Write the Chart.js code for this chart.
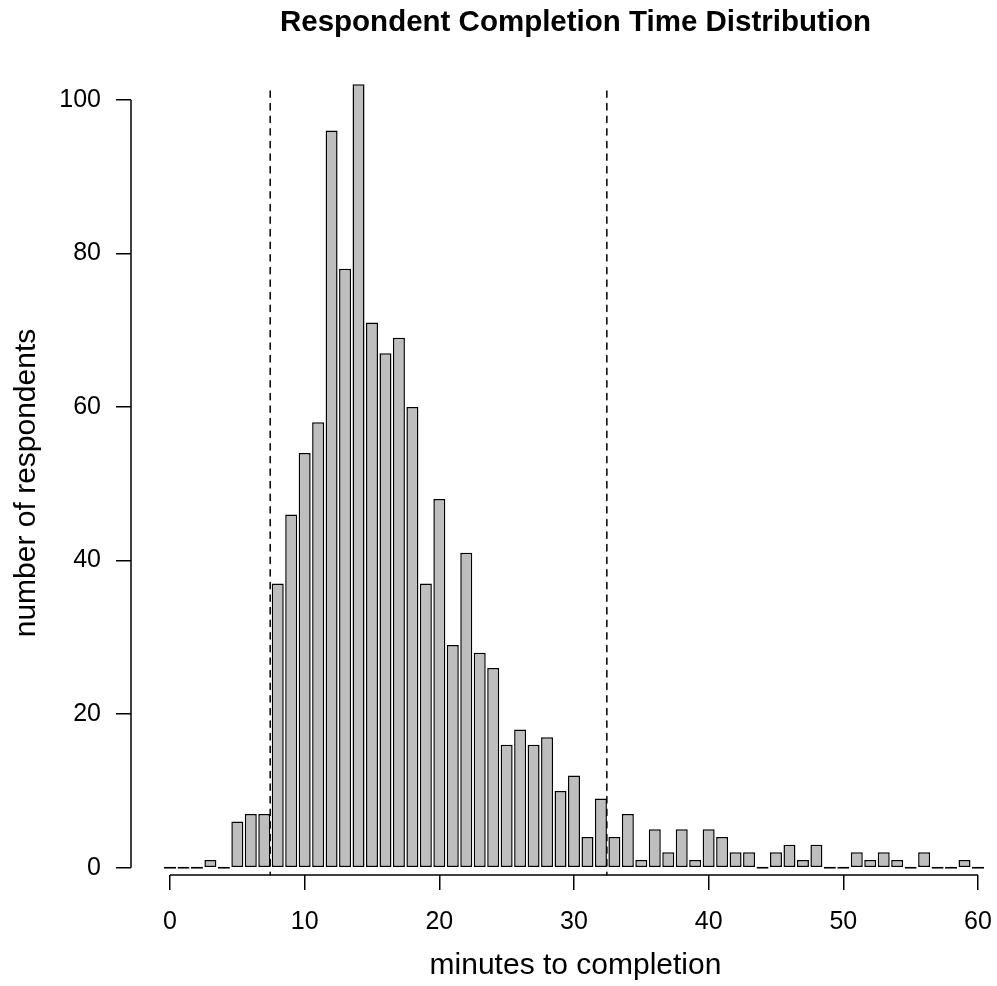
<!DOCTYPE html>
<html>
<head>
<meta charset="utf-8">
<script src="https://cdn.jsdelivr.net/npm/chart.js@4/dist/chart.umd.min.js"></script>
<style>
  html, body { margin: 0; padding: 0; background: #fff; overflow: hidden; }
  canvas { display: block; }
</style>
</head>
<body>
<!-- the plot region runs a little past the right edge of the window, as in the original -->
<canvas id="chart" width="1020" height="986"></canvas>
<script>
// one bar per whole minute
const minutes = [0, 1, 2, 3, 4, 5, 6, 7, 8, 9, 10, 11, 12, 13, 14, 15, 16, 17, 18, 19,
  20, 21, 22, 23, 24, 25, 26, 27, 28, 29, 30, 31, 32, 33, 34, 35, 36, 37, 38, 39,
  40, 41, 42, 43, 44, 45, 46, 47, 48, 49, 50, 51, 52, 53, 54, 55, 56, 57, 58, 59, 60];
const respondents = [0, 0, 0, 1, 0, 6, 7, 7, 37, 46, 54, 58, 96, 78, 102, 71, 67, 69, 60, 37,
  48, 29, 41, 28, 26, 16, 18, 16, 17, 10, 12, 4, 9, 4, 7, 1, 5, 2, 5, 1,
  5, 4, 2, 2, 0, 2, 3, 1, 3, 0, 0, 2, 1, 2, 1, 0, 2, 0, 0, 1, 0];
// dashed cut-off lines
const cutoffs = [7.44, 32.44];
const xTicks = [0, 10, 20, 30, 40, 50, 60];
const yTicks = [0, 20, 40, 60, 80, 100];

const FONT = 'Liberation Sans, Arial, Helvetica, sans-serif';

// R style axes: the line only runs between first and last tick
const rAxes = {
  id: 'rAxes',
  afterDatasetsDraw(chart) {
    const { ctx, chartArea, scales: { x, y } } = chart;
    ctx.save();
    ctx.strokeStyle = '#000';
    ctx.lineWidth = 1.5;

    ctx.setLineDash([6.3, 6.3]);
    ctx.lineCap = 'round';
    cutoffs.forEach(v => {
      const px = x.getPixelForValue(v);
      ctx.beginPath();
      ctx.moveTo(px, chartArea.top);
      ctx.lineTo(px, chartArea.bottom);
      ctx.stroke();
    });

    ctx.setLineDash([]);
    ctx.lineCap = 'butt';
    ctx.beginPath();
    ctx.moveTo(x.getPixelForValue(xTicks[0]), chartArea.bottom);
    ctx.lineTo(x.getPixelForValue(xTicks[xTicks.length - 1]), chartArea.bottom);
    ctx.moveTo(chartArea.left, y.getPixelForValue(yTicks[0]));
    ctx.lineTo(chartArea.left, y.getPixelForValue(yTicks[yTicks.length - 1]));
    ctx.stroke();
    ctx.restore();
  }
};

const tickGrid = {
  display: true,
  offset: false,
  drawOnChartArea: false,
  drawTicks: true,
  tickLength: 15,
  color: '#000',
  lineWidth: 1.5
};

new Chart(document.getElementById('chart'), {
  type: 'bar',
  data: {
    datasets: [{
      data: minutes.map((m, i) => ({ x: m, y: respondents[i] })),
      backgroundColor: '#BEBEBE',
      borderColor: '#000',
      borderWidth: 1.5,
      borderSkipped: false,
      barPercentage: 0.89,
      categoryPercentage: 1,
      minBarLength: 2,
      clip: false
    }]
  },
  options: {
    responsive: false,
    animation: false,
    devicePixelRatio: 1,
    layout: { padding: 0 },
    plugins: {
      legend: { display: false },
      tooltip: { enabled: false },
      title: {
        display: true,
        text: 'Respondent Completion Time Distribution',
        fullSize: false,
        color: '#000',
        font: { family: FONT, size: 29.5, weight: 'bold' },
        padding: { top: 5.3, bottom: 50.3 }
      }
    },
    scales: {
      x: {
        type: 'linear',
        min: -2.896,
        max: 63.12,
        offset: false,
        afterBuildTicks: s => { s.ticks = xTicks.map(v => ({ value: v })); },
        afterFit: s => { s.height = 111; },
        grid: tickGrid,
        border: { display: false },
        ticks: {
          color: '#000',
          font: { family: FONT, size: 25 },
          padding: 17,
          maxRotation: 0,
          autoSkip: false
        },
        title: {
          display: true,
          text: 'minutes to completion',
          color: '#000',
          font: { family: FONT, size: 30 },
          padding: { top: 0, bottom: 2 }
        }
      },
      y: {
        min: -0.95,
        max: 101.13,
        afterBuildTicks: s => { s.ticks = yTicks.map(v => ({ value: v })); },
        afterFit: s => { s.width = 131; },
        grid: tickGrid,
        border: { display: false },
        ticks: {
          color: '#000',
          font: { family: FONT, size: 25 },
          padding: 15
        },
        title: {
          display: true,
          text: 'number of respondents',
          color: '#000',
          font: { family: FONT, size: 30 },
          padding: { top: 9, bottom: 0 }
        }
      }
    }
  },
  plugins: [rAxes]
});
</script>
</body>
</html>
